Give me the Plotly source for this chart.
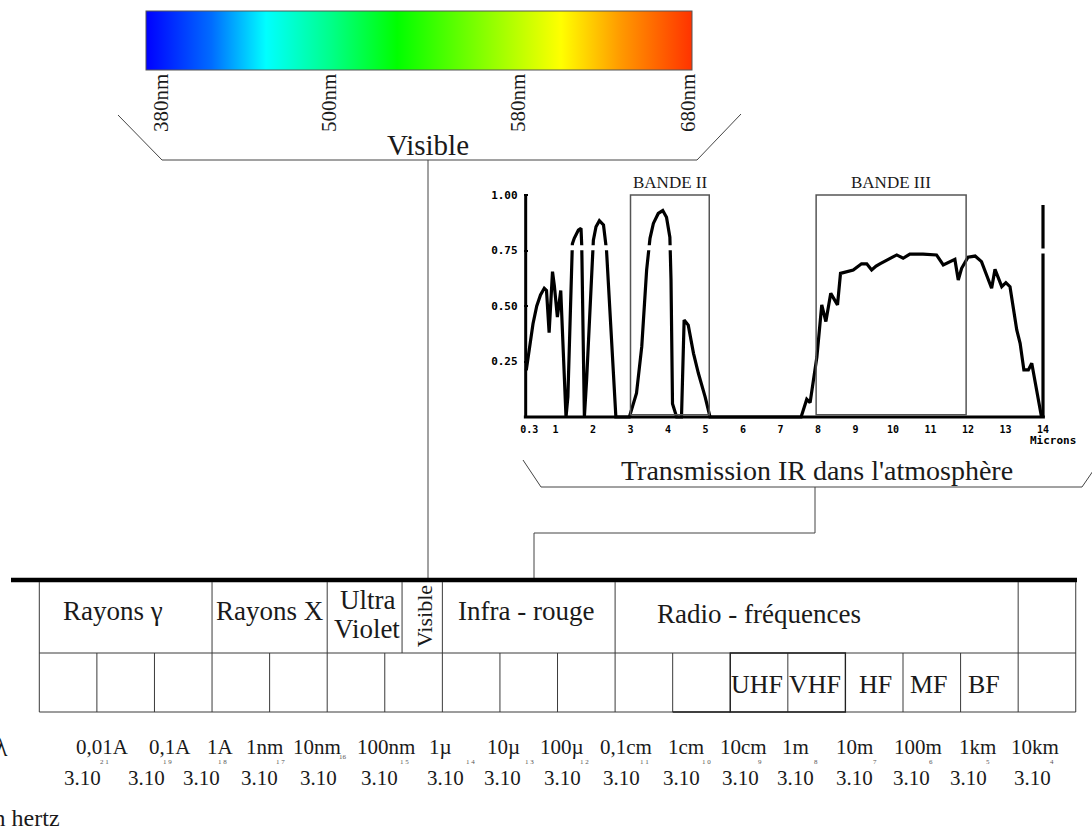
import plotly.graph_objects as go

W, H = 1092, 829
SERIF = "Liberation Serif, Times New Roman, serif"
MONO = "DejaVu Sans Mono, monospace"
INK = "#1a1a1a"
RULE = "#3a3a3a"

# ---------------- visible spectrum strip ----------------
VIS_NM_RANGE = [380, 680]
VIS_TICK_TEXT = ["380nm", "500nm", "580nm", "680nm"]
VIS_TICK_PX = [161, 329, 518, 688]
VIS_SCALE = [
    [0.00, "#0000ff"], [0.12, "#006cff"], [0.22, "#00ffff"], [0.34, "#00ff88"],
    [0.46, "#00ff00"], [0.62, "#88ff00"], [0.76, "#ffff00"], [0.87, "#ff9900"],
    [1.00, "#ff3300"],
]

# ---------------- infrared transmission of the atmosphere ----------------
IR_UM = [0.22, 0.3, 0.4, 0.5, 0.6, 0.7, 0.76, 0.83, 0.92, 0.97, 1.05, 1.14, 1.28,
         1.33, 1.45, 1.5, 1.61, 1.68, 1.7, 1.77, 1.83, 2.01, 2.08, 2.17, 2.28, 2.36,
         2.61, 2.97, 3.16, 3.3, 3.43, 3.52, 3.61, 3.74, 3.86, 3.96, 4.05, 4.08, 4.12,
         4.23, 4.36, 4.43, 4.54, 4.68, 4.81, 4.99, 5.12, 7.55, 7.7, 7.79, 7.87, 7.97,
         8.1, 8.21, 8.34, 8.52, 8.6, 8.94, 9.16, 9.3, 9.43, 9.55, 9.65, 9.92, 10.1,
         10.27, 10.45, 10.8, 11.16, 11.34, 11.65, 11.74, 11.83, 12.0, 12.19, 12.36,
         12.63, 12.72, 12.9, 13.01, 13.12, 13.3, 13.39, 13.49, 13.61, 13.7, 13.96]
IR_T = [0.21, 0.3, 0.42, 0.5, 0.55, 0.58, 0.57, 0.38, 0.655, 0.59, 0.45, 0.57, 0.0,
        0.09, 0.78, 0.805, 0.842, 0.85, 0.77, 0.0, 0.167, 0.797, 0.857, 0.884, 0.865,
        0.752, 0.0, 0.0, 0.107, 0.317, 0.662, 0.805, 0.872, 0.917, 0.93, 0.9, 0.81,
        0.62, 0.06, 0.0, 0.0, 0.437, 0.414, 0.287, 0.197, 0.091, 0.0, 0.0, 0.08,
        0.065, 0.15, 0.27, 0.505, 0.43, 0.557, 0.505, 0.647, 0.662, 0.69, 0.69,
        0.662, 0.68, 0.69, 0.715, 0.73, 0.715, 0.734, 0.734, 0.73, 0.685, 0.71,
        0.617, 0.67, 0.72, 0.725, 0.70, 0.58, 0.665, 0.587, 0.605, 0.587, 0.392,
        0.332, 0.212, 0.212, 0.242, 0.0]
IR_EDGE_UM = [14, 14]
IR_EDGE_T = [0.0, 0.955]
IR_XTICKS = [0.3, 1, 2, 3, 4, 5, 6, 7, 8, 9, 10, 11, 12, 13, 14]
IR_XTICK_TEXT = ["0.3", "1", "2", "3", "4", "5", "6", "7", "8", "9", "10", "11", "12", "13", "14"]
IR_YTICKS = [0.25, 0.5, 0.75, 1.0]
IR_YTICK_TEXT = ["0.25", "0.50", "0.75", "1.00"]
IR_BANDS = ["BANDE II", "BANDE III"]
IR_BAND_START = [3.0, 7.95]
IR_BAND_END = [5.1, 11.95]

# pixel placement of the transmission panel
IR_PX0, IR_PX_PER_UM = 518.0, 37.5
IR_PY0, IR_PY_PER_UNIT = 417.0, 222.0
IR_XRANGE = [0.15, 14.1]
IR_YRANGE = [-0.03, 1.03]


def ir_px(um):
    return IR_PX0 + IR_PX_PER_UM * um


def ir_py(t):
    return IR_PY0 - IR_PY_PER_UNIT * t


# ---------------- electromagnetic spectrum table ----------------
TABLE_X0, CELL_W, N_CELLS = 39.3, 57.58, 18
RULE_Y, ROW_TOP, ROW_MID, ROW_BOT = 580, 582, 653, 712
GROUP_EDGES = [0, 3, 5, 6.3, 7, 10, 17, 18]
GROUP_NAMES = ["Rayons γ", "Rayons X", "Ultra", "Violet", "Infra - rouge", "Radio - fréquences"]
GROUP_LABEL_PX = [113, 270, 367, 367, 526, 759]
GROUP_LABEL_PY = [611, 611, 600, 629, 611, 614]
SUB_NAMES = ["UHF", "VHF", "HF", "MF", "BF"]
SUB_LABEL_PX = [757, 815, 875, 929, 984]

WAVE_TEXT = ["0,01A", "0,1A", "1A", "1nm", "10nm", "100nm", "1µ", "10µ", "100µ",
             "0,1cm", "1cm", "10cm", "1m", "10m", "100m", "1km", "10km"]
WAVE_PX = [102, 170, 220, 264, 317, 386, 440, 503, 562, 626, 686, 743, 795, 854, 918, 977, 1035]
FREQ_EXP = ["2 1", "1 9", "1 8", "1 7", "16", "1 5", "1 4", "1 3", "1 2", "1 1", "1 0",
            "9", "8", "7", "6", "5", "4"]
FREQ_PX = [82, 146, 201, 259, 318, 379, 445, 502, 562, 621, 681, 740, 795, 854, 911, 968, 1032]
FREQ_EXP_PX = [104, 167, 222, 280, 343, 404, 470, 529, 584, 644, 706, 760, 816, 875, 931, 988, 1052]


def cell_x(k):
    return TABLE_X0 + CELL_W * k


fig = go.Figure()

# colour strip of the visible range (rendered as a colour bar)
fig.add_trace(go.Scatter(
    x=[-100, -100], y=[-100, -100], mode="markers", hoverinfo="skip", showlegend=False,
    marker=dict(
        color=VIS_NM_RANGE, cmin=VIS_NM_RANGE[0], cmax=VIS_NM_RANGE[1], colorscale=VIS_SCALE,
        showscale=True,
        colorbar=dict(
            orientation="h", x=(146 + 692) / 2 / W, xanchor="center",
            y=1 - 11 / H, yanchor="top", len=546, lenmode="pixels",
            thickness=59, thicknessmode="pixels", outlinewidth=1, outlinecolor="#555555",
            showticklabels=False, ticks="", xpad=0, ypad=0, borderwidth=0,
        ),
    ),
    xaxis="x", yaxis="y",
))

# transmission curve
fig.add_trace(go.Scatter(
    x=IR_UM + [None] + IR_EDGE_UM, y=IR_T + [None] + IR_EDGE_T,
    mode="lines", line=dict(color="black", width=3.2), showlegend=False,
    hoverinfo="skip", xaxis="x2", yaxis="y2",
))

shapes = []
annotations = []


def seg(x0, y0, x1, y1, color=RULE, width=1.0, ref=("x", "y")):
    shapes.append(dict(type="line", xref=ref[0], yref=ref[1], x0=x0, y0=y0, x1=x1, y1=y1,
                       line=dict(color=color, width=width)))


def path(d, color="#444444", width=1.0):
    shapes.append(dict(type="path", xref="x", yref="y", path=d,
                       line=dict(color=color, width=width)))


def label(text, x, y, size, angle=0, xanchor="center", family=SERIF, color=INK, weight="normal"):
    annotations.append(dict(text=text, x=x, y=y, xref="x", yref="y", showarrow=False,
                            textangle=angle, xanchor=xanchor, yanchor="middle",
                            font=dict(family=family, size=size, color=color, weight=weight)))


# transmission panel axes and band boxes
seg(IR_XRANGE[0], 0, 14.05, 0, color="black", width=3, ref=("x2", "y2"))
seg(0.205, 0, 0.205, 1.0, color="black", width=3, ref=("x2", "y2"))
seg(1.3, 0.762, 4.25, 0.762, color="white", width=5, ref=("x2", "y2"))
seg(13.9, 0.748, 14.1, 0.748, color="white", width=5, ref=("x2", "y2"))
for name, b0, b1 in zip(IR_BANDS, IR_BAND_START, IR_BAND_END):
    shapes.append(dict(type="rect", xref="x2", yref="y2", x0=b0, x1=b1, y0=0.01, y1=1.0,
                       line=dict(color="#555555", width=1.5)))
    label(name, ir_px((b0 + b1) / 2), ir_py(1.0) - 13, 17)
label("Microns", 1028, 440, 11, xanchor="left", family=MONO, color="black", weight="bold")

# visible range bracket
for txt, px in zip(VIS_TICK_TEXT, VIS_TICK_PX):
    label(txt, px, 103, 21, angle=-90)
path("M118,115 L162,160 L697,160 L741,114")
label("Visible", 428, 145, 29)
seg(428, 160, 428, RULE_Y, color="#444444")

# infrared bracket
path("M523,460 L541,487 L1082,487 L1093,471")
label("Transmission IR dans l'atmosphère", 817, 470, 28)
path("M815,487 L815,533 L534,533 L534,580")

# spectrum table
seg(11, RULE_Y, 1077, RULE_Y, color="black", width=4.5)
for e in GROUP_EDGES:
    seg(cell_x(e), ROW_TOP, cell_x(e), ROW_MID)
for k in range(N_CELLS + 1):
    seg(cell_x(k), ROW_MID, cell_x(k), ROW_BOT)
seg(cell_x(0), ROW_MID, cell_x(N_CELLS), ROW_MID)
seg(cell_x(0), ROW_BOT, cell_x(N_CELLS), ROW_BOT)
shapes.append(dict(type="rect", xref="x", yref="y", x0=cell_x(12), x1=cell_x(14),
                   y0=ROW_MID, y1=ROW_BOT, line=dict(color="#222222", width=1.3)))
seg(cell_x(11), ROW_BOT, cell_x(12), ROW_BOT, color="#222222", width=1.3)

for name, px, py in zip(GROUP_NAMES, GROUP_LABEL_PX, GROUP_LABEL_PY):
    label(name, px, py, 27)
label("Visible", (cell_x(GROUP_EDGES[3]) + cell_x(GROUP_EDGES[4])) / 2 + 2, 616, 22, angle=-90)
for name, px in zip(SUB_NAMES, SUB_LABEL_PX):
    label(name, px, 684, 26)

# wavelength and frequency scales
for txt, px in zip(WAVE_TEXT, WAVE_PX):
    label(txt, px, 747, 21)
for exp, px, epx in zip(FREQ_EXP, FREQ_PX, FREQ_EXP_PX):
    label("3.10", px, 778, 21)
    label(exp, epx, 757 if exp == "16" else 762, 7, color="#555555")
label("λ", 10, 746, 28, xanchor="right")
label("Fréquence en hertz", 62, 818, 24, xanchor="right")

x2_dom = [ir_px(IR_XRANGE[0]) / W, ir_px(IR_XRANGE[1]) / W]
y2_dom = [1 - ir_py(IR_YRANGE[0]) / H, 1 - ir_py(IR_YRANGE[1]) / H]

fig.update_layout(
    width=W, height=H,
    margin=dict(l=0, r=0, t=0, b=0, pad=0, autoexpand=False),
    paper_bgcolor="white", plot_bgcolor="rgba(0,0,0,0)",
    showlegend=False,
    xaxis=dict(range=[0, W], domain=[0, 1], visible=False, fixedrange=True),
    yaxis=dict(range=[H, 0], domain=[0, 1], visible=False, fixedrange=True),
    xaxis2=dict(range=IR_XRANGE, domain=x2_dom, anchor="y2", showgrid=False, zeroline=False,
                showline=False, ticks="", tickvals=IR_XTICKS, ticktext=IR_XTICK_TEXT,
                ticklabelstandoff=-2,
                tickfont=dict(family=MONO, size=10, color="black", weight="bold"), fixedrange=True),
    yaxis2=dict(range=IR_YRANGE, domain=y2_dom, anchor="x2", showgrid=False, zeroline=False,
                showline=False, ticks="inside", ticklen=4, tickwidth=2, tickcolor="black",
                tickvals=IR_YTICKS, ticktext=IR_YTICK_TEXT, ticklabelstandoff=5,
                tickfont=dict(family=MONO, size=11, color="black", weight="bold"), fixedrange=True),
    shapes=shapes, annotations=annotations,
)

fig.write_html("out.html")
